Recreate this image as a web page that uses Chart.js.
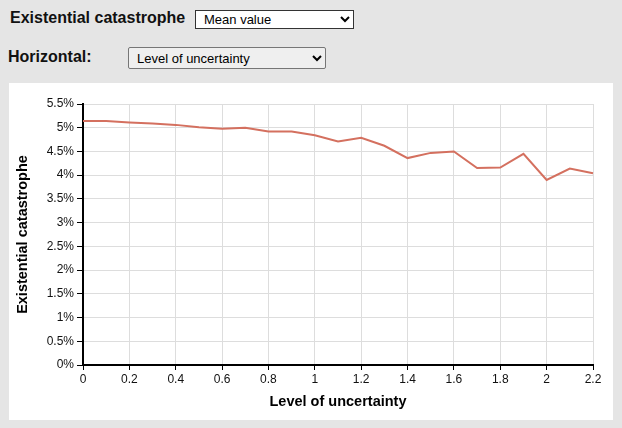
<!DOCTYPE html>
<html>
<head>
<meta charset="utf-8">
<script src="https://cdn.jsdelivr.net/npm/chart.js@4"></script>
<style>
  html, body { margin: 0; padding: 0; }
  body { width: 622px; height: 428px; background: #e5e5e5; font-family: Arial, "Liberation Sans", sans-serif; position: relative; overflow: hidden; }
  .lbl { position: absolute; font-weight: bold; font-size: 16px; color: #111; }
  select { position: absolute; font: 13px Arial, "Liberation Sans", sans-serif; color: #000; margin: 0; padding: 0 0 0 4px; }
  #selVert { left: 195px; top: 10px; width: 159px; height: 19px; background: #fff; border: 1px solid #333; border-radius: 0; }
  #selHor { left: 128px; top: 47px; width: 198px; height: 22px; background: #efefef; border: 1px solid #767676; border-radius: 2px; }
  #box { position: absolute; left: 9px; top: 83px; width: 604px; height: 337px; background: #fff; }
</style>
</head>
<body>
<div class="lbl" style="left:10px; top:9px;">Existential catastrophe</div>
<select id="selVert"><option>Mean value</option></select>
<div class="lbl" style="left:8px; top:48px;">Horizontal:</div>
<select id="selHor"><option>Level of uncertainty</option></select>
<div id="box"><canvas id="chart"></canvas></div>
<script>
const uncertainty = [0, 0.1, 0.2, 0.3, 0.4, 0.5, 0.6, 0.7, 0.8, 0.9, 1.0, 1.1, 1.2, 1.3, 1.4, 1.5, 1.6, 1.7, 1.8, 1.9, 2.0, 2.1, 2.2, 2.3];
const meanValue = [5.14, 5.14, 5.11, 5.09, 5.06, 5.01, 4.98, 5.00, 4.92, 4.92, 4.84, 4.71, 4.79, 4.62, 4.36, 4.47, 4.50, 4.15, 4.16, 4.45, 3.90, 4.14, 4.04, 3.70];
const xTicks = [0, 0.2, 0.4, 0.6, 0.8, 1, 1.2, 1.4, 1.6, 1.8, 2, 2.2];
const yTicks = [0, 0.5, 1, 1.5, 2, 2.5, 3, 3.5, 4, 4.5, 5, 5.5];

Chart.defaults.font.family = 'Arial, "Liberation Sans", sans-serif';
Chart.defaults.font.size = 12;
Chart.defaults.color = '#111';

new Chart(document.getElementById('chart'), {
  type: 'line',
  data: {
    datasets: [{
      label: 'Existential catastrophe',
      data: uncertainty.map((x, i) => ({ x: x, y: meanValue[i] })),
      borderColor: '#d4705f',
      borderWidth: 2,
      pointRadius: 0,
      tension: 0,
      clip: { left: 0, top: 0, right: 4, bottom: 0 },
    }],
  },
  options: {
    responsive: true, maintainAspectRatio: false, animation: false,
    layout: { padding: { left: 0, top: 21, right: 20, bottom: 0 } },
    plugins: { legend: { display: false }, tooltip: { enabled: false } },
    scales: {
      x: {
        type: 'linear', min: 0, max: 2.2,
        afterBuildTicks: (s) => { s.ticks = xTicks.map(v => ({ value: v })); },
        afterFit: (s) => { s.height = 55; },
        ticks: { callback: (v) => String(+v.toFixed(1)), padding: 2, maxRotation: 0 },
        grid: { color: '#dddddd', tickColor: '#000', tickLength: 5 },
        border: { color: '#000', width: 2 },
        title: { display: true, text: 'Level of uncertainty', font: { weight: 'bold', size: 14.5 }, color: '#000', padding: { top: 0, bottom: 9 } },
      },
      y: {
        min: 0, max: 5.5,
        afterBuildTicks: (s) => { s.ticks = yTicks.map(v => ({ value: v })); },
        afterFit: (s) => { s.width = 74; },
        ticks: { callback: (v) => v + '%', padding: 3 },
        grid: { color: '#dddddd', tickColor: '#000', tickLength: 6 },
        border: { color: '#000', width: 2 },
        title: { display: true, text: 'Existential catastrophe', font: { weight: 'bold', size: 14.5 }, color: '#000', padding: { top: 5, bottom: 0 } },
      },
    },
  },
});
</script>
</body>
</html>
